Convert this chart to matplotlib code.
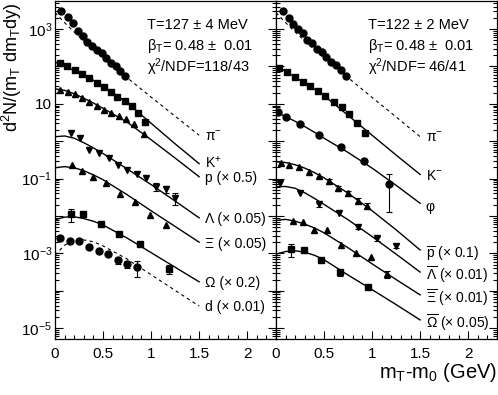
import numpy as np
import matplotlib
matplotlib.use('Agg')
import matplotlib.pyplot as plt
from matplotlib.ticker import LogLocator, FuncFormatter, MultipleLocator, NullFormatter, FixedLocator

plt.rcParams['font.family'] = ['Liberation Sans', 'DejaVu Sans']
plt.rcParams['mathtext.fontset'] = 'custom'
plt.rcParams['mathtext.rm'] = 'Liberation Sans'
plt.rcParams['mathtext.it'] = 'Liberation Sans:italic'
plt.rcParams['mathtext.bf'] = 'Liberation Sans:bold'

# ---- left panel data (mT-m0 in GeV, yield) ----
pim_x_L = [0.06, 0.135, 0.183, 0.235, 0.293, 0.335, 0.383, 0.438, 0.487, 0.532, 0.583, 0.632, 0.681, 0.729]
pim_y_L = [3090, 2040, 1410, 890, 660, 457, 355, 275, 224, 166, 126, 100, 76, 55]

kp_x = [0.052, 0.128, 0.207, 0.283, 0.356, 0.432, 0.508, 0.58, 0.65, 0.725, 0.801, 0.863, 0.94]
kp_y = [126, 102, 79, 63, 48, 36, 29, 21, 15.5, 11.7, 8.7, 5.8, 3.3]

p_x = [0.052, 0.131, 0.207, 0.277, 0.356, 0.432, 0.508, 0.587, 0.663, 0.743, 0.826, 0.922]
p_y = [23.4, 20.4, 17.8, 14.5, 11.5, 8.7, 6.8, 5.6, 4.8, 3.9, 2.9, 1.6]

lam_x = [0.163, 0.259, 0.355, 0.456, 0.56, 0.656, 0.753, 0.853, 0.95, 1.054, 1.15, 1.251]
lam_y = [1.62, 1.20, 0.60, 0.48, 0.36, 0.23, 0.17, 0.132, 0.102, 0.060, 0.052, 0.030]
lam_e = [0, 0, 0, 0, 0, 0, 0, 0, 0, 0.014, 0.012, 0.010]

xi_x = [0.18, 0.283, 0.397, 0.535, 0.681, 0.836, 0.992, 1.157]
xi_y = [0.234, 0.162, 0.112, 0.078, 0.038, 0.024, 0.0107, 0.0058]

om_x = [0.163, 0.293, 0.474, 0.666, 0.881, 1.184]
om_y = [0.0112, 0.0111, 0.0060, 0.0033, 0.00178, 0.00038]
om_e = [0.0045, 0, 0, 0.0004, 0, 0.0001]

d_x = [0.052, 0.155, 0.252, 0.356, 0.459, 0.553, 0.656, 0.753, 0.853]
d_y = [0.00263, 0.00214, 0.00214, 0.00145, 0.00117, 0.00095, 0.00066, 0.00052, 0.00044]
d_e = [0, 0, 0, 0, 0, 0, 0.00015, 0.00012, 0.0002]

# ---- right panel data ----
pim_x_R = [0.076, 0.135, 0.181, 0.233, 0.278, 0.326, 0.372, 0.424, 0.476, 0.521, 0.569, 0.621, 0.674, 0.726]
pim_y_R = [3020, 1950, 1350, 980, 760, 510, 427, 288, 245, 174, 135, 110, 79, 56]

km_x = [0.035, 0.115, 0.194, 0.278, 0.358, 0.438, 0.514, 0.601, 0.688, 0.764, 0.844, 0.924]
km_y = [92.5, 69, 53, 39, 29.5, 21.9, 16.6, 11.5, 8.1, 5.2, 3.0, 1.62]

phi_x = [0.021, 0.104, 0.253, 0.451, 0.68, 0.92, 1.18]
phi_y = [5.9, 4.4, 2.9, 1.47, 0.69, 0.30, 0.071]
phi_e = [0, 0, 0, 0, 0, 0, 0.058]

pbar_x = [0.049, 0.139, 0.243, 0.344, 0.448, 0.547, 0.643, 0.747, 0.851, 0.951]
pbar_y = [0.257, 0.232, 0.209, 0.148, 0.115, 0.085, 0.055, 0.040, 0.0257, 0.0186]
pbar_e = [0, 0, 0, 0, 0, 0.012, 0.008, 0.006, 0.004, 0.003]

lbar_x = [0.045, 0.253, 0.444, 0.653, 0.851, 1.052, 1.25]
lbar_y = [0.074, 0.042, 0.0204, 0.0117, 0.0051, 0.0025, 0.00158]
lbar_e = [0, 0, 0.0025, 0, 0.0006, 0.0003, 0.0002]

xbar_x = [0.174, 0.278, 0.399, 0.531, 0.677, 0.833, 0.99, 1.16]
xbar_y = [0.0075, 0.0068, 0.0043, 0.0041, 0.00166, 0.0010, 0.00079, 0.00028]
xbar_e = [0, 0, 0, 0, 0, 0, 0, 0.00006]

obar_x = [0.16, 0.295, 0.469, 0.663, 0.955]
obar_y = [0.00132, 0.00123, 0.00066, 0.00031, 0.000123]
obar_e = [0.0005, 0, 0, 0.00006, 0]

# ---- blast wave fit curves, log10 of yield read at fit_x ----
fit_x = [0, 0.1, 0.2, 0.3, 0.4, 0.5, 0.75, 1.0, 1.25, 1.5]
fit_pim_L = [3.44, 3.17, 2.92, 2.68, 2.45, 2.23, 1.70, 1.18, 0.67, 0.16]
fit_kp = [2.12, 2.0, 1.89, 1.77, 1.63, 1.48, 1.03, 0.48, -0.07, -0.60]
fit_p = [1.40, 1.36, 1.27, 1.15, 1.02, 0.88, 0.51, 0.04, -0.45, -0.95]
fit_lam = [0.12, 0.14, 0.08, -0.04, -0.18, -0.33, -0.74, -1.16, -1.60, -2.05]
fit_xi = [-0.71, -0.68, -0.71, -0.79, -0.90, -1.03, -1.43, -1.86, -2.28, -2.70]
fit_om = [-2.10, -2.03, -2.02, -2.07, -2.14, -2.24, -2.59, -2.98, -3.37, -3.76]
fit_d = [-3.05, -2.78, -2.66, -2.64, -2.69, -2.80, -3.15, -3.57, -3.99, -4.41]

fit_pim_R = [3.44, 3.17, 2.92, 2.68, 2.45, 2.23, 1.70, 1.17, 0.65, 0.12]
fit_km = [2.02, 1.87, 1.71, 1.55, 1.39, 1.22, 0.69, 0.16, -0.37, -0.89]
fit_phi = [0.78, 0.66, 0.53, 0.39, 0.24, 0.08, -0.30, -0.72, -1.18, -1.66]
fit_pbar = [-0.55, -0.57, -0.63, -0.72, -0.84, -0.98, -1.39, -1.86, -2.37, -2.91]
fit_lbar = [-1.22, -1.21, -1.26, -1.38, -1.53, -1.69, -2.10, -2.55, -3.02, -3.50]
fit_xbar = [-2.12, -2.09, -2.14, -2.22, -2.32, -2.45, -2.85, -3.28, -3.70, -4.11]
fit_obar = [-3.02, -2.95, -2.93, -2.97, -3.05, -3.17, -3.58, -3.97, -4.37, -4.78]

left_text = ["T=127 ± 4 MeV", r"β$_\mathregular{T}$= 0.48 ±  0.01", r"χ$^\mathregular{2}$/NDF=118/43"]
right_text = ["T=122 ± 2 MeV", r"β$_\mathregular{T}$= 0.48 ±  0.01", r"χ$^\mathregular{2}$/NDF= 46/41"]

fig = plt.figure(figsize=(4.98, 3.95), dpi=100)
axL = fig.add_axes([55 / 498, 56 / 395, 221 / 498, 338 / 395])
axR = fig.add_axes([276 / 498, 56 / 395, 221 / 498, 338 / 395])

msz = {'o': 5.0, 's': 4.4, '^': 5.0, 'v': 5.0}


def draw(ax, x, y, marker, fit, label, dashed=False, err=None, dy=-1):
    fy = 10 ** np.array(fit)
    if dashed:
        ax.plot(fit_x, fy, color='k', lw=0.8, ls=(0, (3, 3)))
    else:
        ax.plot(fit_x, fy, color='k', lw=1.0)
    ax.plot(x, y, marker, color='k', ms=msz[marker], ls='none', zorder=3)
    if err is not None:
        e = np.array(err)
        sel = e > 0
        ax.errorbar(np.array(x)[sel], np.array(y)[sel], yerr=e[sel], fmt='none',
                    ecolor='k', elinewidth=0.8, capsize=2, capthick=0.8, zorder=3)
    ax.annotate(label, (fit_x[-1], fy[-1]), xytext=(4, dy), textcoords='offset points',
                va='center', ha='left', fontsize=10)


draw(axL, pim_x_L, pim_y_L, 'o', fit_pim_L, r"π$^\mathregular{-}$", dashed=True)
draw(axL, kp_x, kp_y, 's', fit_kp, r"K$^\mathregular{+}$", dy=1)
draw(axL, p_x, p_y, '^', fit_p, "p (× 0.5)", dy=-1)
draw(axL, lam_x, lam_y, 'v', fit_lam, "Λ (× 0.05)", err=lam_e)
draw(axL, xi_x, xi_y, '^', fit_xi, "Ξ (× 0.05)")
draw(axL, om_x, om_y, 's', fit_om, "Ω (× 0.2)", err=om_e)
draw(axL, d_x, d_y, 'o', fit_d, "d (× 0.01)", dashed=True, err=d_e)

draw(axR, pim_x_R, pim_y_R, 'o', fit_pim_R, r"π$^\mathregular{-}$", dashed=True)
draw(axR, km_x, km_y, 's', fit_km, r"K$^\mathregular{-}$")
draw(axR, phi_x, phi_y, 'o', fit_phi, "φ", err=phi_e, dy=-3)
draw(axR, pbar_x, pbar_y, '^', fit_pbar, r"$\overline{\mathregular{p}}$ (× 0.1)", err=pbar_e, dy=-3)
draw(axR, lbar_x, lbar_y, 'v', fit_lbar, r"$\overline{\Lambda}$ (× 0.01)", err=lbar_e, dy=-2)
draw(axR, xbar_x, xbar_y, '^', fit_xbar, r"$\overline{\Xi}$ (× 0.01)", err=xbar_e, dy=-2)
draw(axR, obar_x, obar_y, 's', fit_obar, r"$\overline{\Omega}$ (× 0.05)", err=obar_e, dy=-2)


def ylab(v, pos):
    e = int(round(np.log10(v)))
    if e == 1:
        return "10"
    if e % 2 == 1:
        return r"10$^\mathregular{%d}$" % e
    return ""


for ax, txt in ((axL, left_text), (axR, right_text)):
    ax.set_yscale('log')
    ax.set_xlim(0, 2.3)
    ax.set_ylim(10 ** -5.29, 10 ** 3.75)
    ax.yaxis.set_major_locator(FixedLocator([10.0 ** k for k in range(-5, 4)]))
    ax.yaxis.set_minor_locator(LogLocator(base=10, subs=np.arange(2, 10), numticks=20))
    ax.yaxis.set_minor_formatter(NullFormatter())
    ax.xaxis.set_major_locator(MultipleLocator(0.5))
    ax.xaxis.set_minor_locator(MultipleLocator(0.1))
    ax.xaxis.set_major_formatter(FuncFormatter(lambda v, p: "%g" % v))
    ax.tick_params(which='both', direction='in', left=True, right=True, top=False, bottom=True,
                   labelsize=11, width=0.8)
    ax.tick_params(which='major', length=6)
    ax.tick_params(axis='x', which='major', pad=6)
    ax.tick_params(axis='y', which='major', pad=2)
    ax.tick_params(which='minor', length=3)
    for s in ax.spines.values():
        s.set_linewidth(0.9)
    for i, t in enumerate(txt):
        ax.text(0.416, 0.929 - i * 0.062, t, transform=ax.transAxes, va='center', ha='left', fontsize=10.5)

axL.yaxis.set_major_formatter(FuncFormatter(ylab))
axR.yaxis.set_major_formatter(NullFormatter())

fig.text(0.024, 0.83, r"d$^\mathregular{2}$N/(m$_\mathregular{T}$ dm$_\mathregular{T}$dy)",
         rotation=90, ha='center', va='center', fontsize=13)
fig.text(0.998, 0.058, r"m$_\mathregular{T}$-m$_\mathregular{0}$ (GeV)", ha='right', va='center', fontsize=14.5)

fig.savefig('out.png', dpi=100)
